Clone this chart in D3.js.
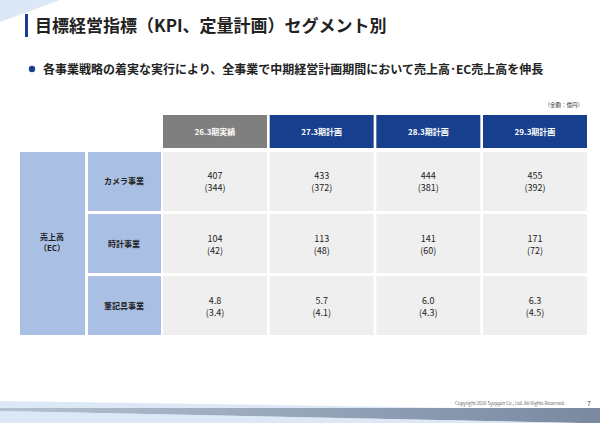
<!DOCTYPE html>
<html><head><meta charset="utf-8">
<script src="https://cdn.jsdelivr.net/npm/d3@7"></script>
<style>body{margin:0;background:#fff}svg{display:block;font-family:"Noto Sans CJK JP","Noto Sans",sans-serif}</style>
</head><body>
<script>
// table content
var periods = ["26.3期実績", "27.3期計画", "28.3期計画", "29.3期計画"];
var segments = ["カメラ事業", "時計事業", "筆記具事業"];
var sales = [["407", "433", "444", "455"], ["104", "113", "141", "171"], ["4.8", "5.7", "6.0", "6.3"]];
var ecSales = [["344", "372", "381", "392"], ["42", "48", "60", "72"], ["3.4", "4.1", "4.3", "4.5"]];

var W = 600, H = 423;
var svg = d3.select("body").append("svg").attr("width", W).attr("height", H);

// decorations
svg.append("path").attr("d", "M0,0 L60,0 L0,22 Z").attr("fill", "#dce8f5");
svg.append("path").attr("d", "M0,401 L600,410 L600,423 L0,423 Z").attr("fill", "#dce8f5");
var g = svg.append("defs").append("linearGradient").attr("id", "bd");
g.append("stop").attr("offset", "0").attr("stop-color", "#b3c1d2");
g.append("stop").attr("offset", "1").attr("stop-color", "#7a89a0");
svg.append("path").attr("d", "M0,408 L600,408 L600,423 L580,423 L0,411 Z").attr("fill", "url(#bd)");
svg.append("path").attr("d", "M0,411 L580,423 L0,423 Z").attr("fill", "#dce8f5");

// title
svg.append("rect").attr("x", 25).attr("y", 14).attr("width", 3).attr("height", 23).attr("fill", "#173f8e");
svg.append("text").attr("x", 35).attr("y", 32).attr("font-size", 17).attr("font-weight", "bold").attr("fill", "#222")
  .text("目標経営指標（KPI、定量計画）セグメント別");
svg.append("circle").attr("cx", 32).attr("cy", 69).attr("r", 3.2).attr("fill", "#173f8e");
svg.append("text").attr("x", 43).attr("y", 74).attr("font-size", 12).attr("font-weight", "bold").attr("fill", "#222")
  .text("各事業戦略の着実な実行により、全事業で中期経営計画期間において売上高･EC売上高を伸長");
svg.append("text").attr("x", 583).attr("y", 107).attr("text-anchor", "end").attr("font-size", 5.5).attr("fill", "#333")
  .text("（金額：億円）");

// scales
var x = d3.scaleBand().domain(periods).range([163, 587]).paddingInner(0.025);
var y = d3.scaleBand().domain(segments).range([152, 335]).paddingInner(0.05);

svg.selectAll(".hd").data(periods).join("rect")
  .attr("x", d => x(d)).attr("y", 115).attr("width", x.bandwidth()).attr("height", 33)
  .attr("fill", (d, i) => i === 0 ? "#7f7f7f" : "#173f8e");
svg.selectAll(".ht").data(periods).join("text")
  .attr("x", d => x(d) + x.bandwidth() / 2).attr("y", 135).attr("text-anchor", "middle")
  .attr("font-size", 8).attr("font-weight", "bold").attr("fill", "#fff").text(d => d);

svg.append("rect").attr("x", 20).attr("y", y(segments[0])).attr("width", 65)
  .attr("height", y(segments[2]) + y.bandwidth() - y(segments[0])).attr("fill", "#a9bfe3");
svg.append("text").attr("x", 52).attr("y", 240).attr("text-anchor", "middle").attr("font-size", 8).attr("font-weight", "bold").attr("fill", "#222").text("売上高");
svg.append("text").attr("x", 52).attr("y", 251).attr("text-anchor", "middle").attr("font-size", 8).attr("font-weight", "bold").attr("fill", "#222").text("（EC）");

segments.forEach(function (s, r) {
  svg.append("rect").attr("x", 88).attr("y", y(s)).attr("width", 73).attr("height", y.bandwidth()).attr("fill", "#a9bfe3");
  svg.append("text").attr("x", 124).attr("y", y(s) + y.bandwidth() / 2 + 3).attr("text-anchor", "middle")
    .attr("font-size", 8).attr("font-weight", "bold").attr("fill", "#222").text(s);
  periods.forEach(function (p, c) {
    svg.append("rect").attr("x", x(p)).attr("y", y(s)).attr("width", x.bandwidth()).attr("height", y.bandwidth()).attr("fill", "#efefef");
    var cx = x(p) + x.bandwidth() / 2, cy = y(s) + y.bandwidth() / 2;
    svg.append("text").attr("x", cx).attr("y", cy - 2).attr("text-anchor", "middle").attr("font-size", 9).attr("fill", "#222").text(sales[r][c]);
    svg.append("text").attr("x", cx).attr("y", cy + 10).attr("text-anchor", "middle").attr("font-size", 9).attr("fill", "#222").text("(" + ecSales[r][c] + ")");
  });
});

// footer
svg.append("text").attr("x", 510).attr("y", 405).attr("text-anchor", "middle").attr("font-size", 4.5).attr("fill", "#666")
  .text("Copyright 2026 Syuppin Co., Ltd. All Rights Reserved.");
svg.append("text").attr("x", 589).attr("y", 406).attr("text-anchor", "middle").attr("font-size", 7).attr("fill", "#555").text("7");
</script>
</body></html>
